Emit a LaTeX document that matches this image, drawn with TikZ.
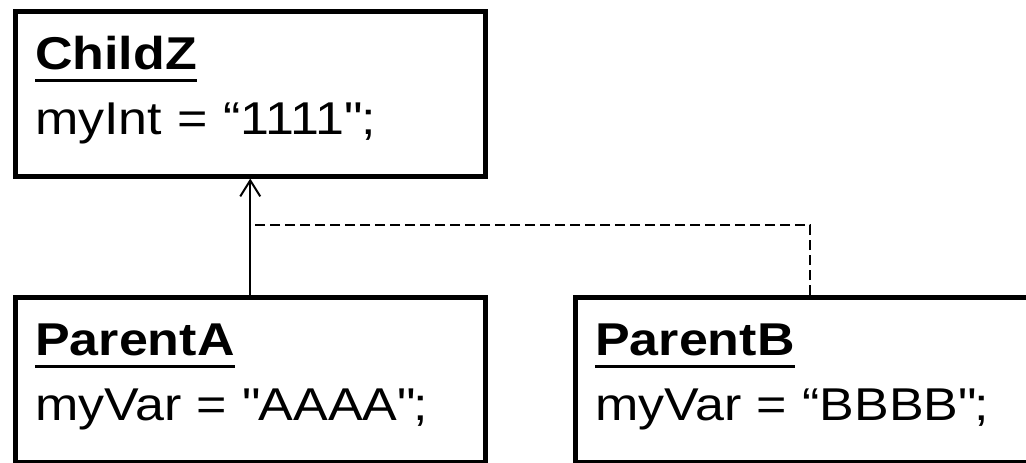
\documentclass[tikz,border=0pt]{standalone}
\usepackage{fontspec}
\setmainfont{Liberation Sans}[FakeStretch=1.13]
\usetikzlibrary{arrows.meta, positioning, calc}
\newsavebox{\titlebox}
\newcommand{\classtitle}[1]{%
  % bold class name with a heavy underline
  \sbox\titlebox{\textbf{#1}}\rlap{\usebox\titlebox}\rule[-6.25pt]{\wd\titlebox}{1.5pt}%
}
\newcommand{\dq}{\textquotedbl}
\newcommand{\lowstrut}{\rule[-8pt]{0pt}{0pt}}
\tikzset{
  classbox/.style={
    draw=black, line width=2.25pt, rectangle,
    minimum width=235pt, minimum height=82.5pt,
    text width=215pt, align=left, inner xsep=10pt, inner ysep=0pt,
    font=\fontsize{23pt}{32.5pt}\selectfont,
  },
  inherit/.style={
    -{Straight Barb[length=8pt, width=10pt]}, line width=1pt, draw=black,
  },
  uses/.style={
    dash pattern=on 5pt off 2.5pt, line width=1pt, draw=black,
  },
}

\begin{document}
\begin{tikzpicture}
\useasboundingbox (0,0) rectangle (513pt,-231pt);
\clip (0,0) rectangle (513pt,-231pt);

% =========================================================================
% classes
% =========================================================================

\node[classbox, anchor=north west] (childz) at (6.5pt,-4.5pt) {%
  \classtitle{ChildZ}\\
  myInt = “1111\dq;\lowstrut};

\node[classbox, below=58.25pt of childz] (parentA) {%
  \classtitle{ParentA}\\
  myVar = \dq AAAA\dq;\lowstrut};

\node[classbox, right=42.75pt of parentA] (parentB) {%
  \classtitle{ParentB}\\
  myVar = “BBBB\dq;\lowstrut};

% =========================================================================
% connectors
% =========================================================================

\coordinate (join) at ($(childz.south)!0.4!(parentA.north)$);

\draw[inherit] (parentA.north) -- (childz.south);
\draw[uses] (parentB.north) |- (join);

\end{tikzpicture}
\end{document}
